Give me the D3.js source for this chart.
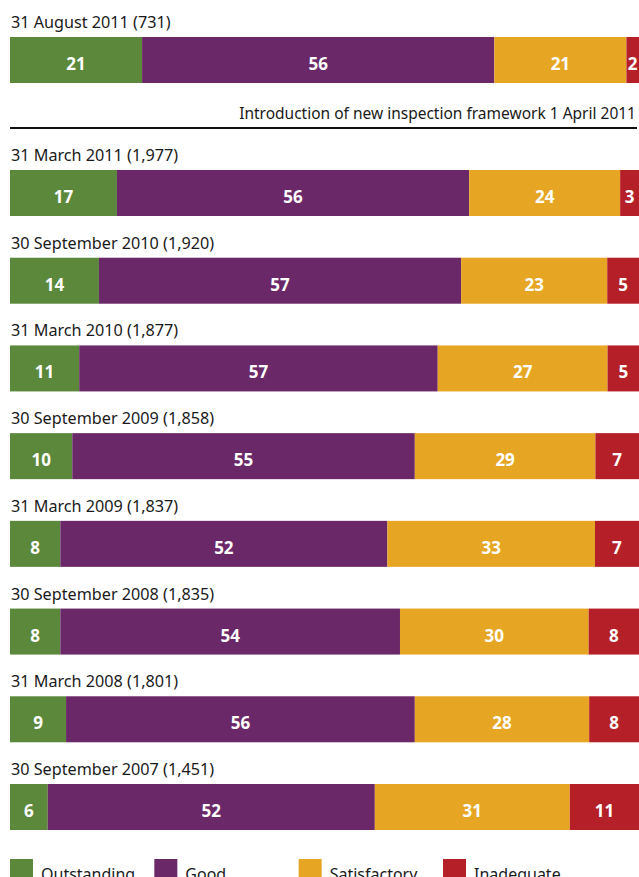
<!DOCTYPE html>
<html>
<head>
<meta charset="utf-8">
<script src="https://cdn.jsdelivr.net/npm/d3@7"></script>
<style>
  html, body { margin: 0; padding: 0; background: #fff; }
  svg { display: block; }
  text { font-family: "Noto Sans", "Open Sans", sans-serif; }
</style>
</head>
<body>
<svg id="chart" width="639" height="877"></svg>
<script>
// Inspection outcomes by date (percentages, rounded)
const dates = [
  "31 August 2011 (731)",
  "31 March 2011 (1,977)",
  "30 September 2010 (1,920)",
  "31 March 2010 (1,877)",
  "30 September 2009 (1,858)",
  "31 March 2009 (1,837)",
  "30 September 2008 (1,835)",
  "31 March 2008 (1,801)",
  "30 September 2007 (1,451)"
];
const outstanding  = [21, 17, 14, 11, 10, 8, 8, 9, 6];
const good         = [56, 56, 57, 57, 55, 52, 54, 56, 52];
const satisfactory = [21, 24, 23, 27, 29, 33, 30, 28, 31];
const inadequate   = [2, 3, 5, 5, 7, 7, 8, 8, 11];

const categories = ["Outstanding", "Good", "Satisfactory", "Inadequate"];
const colours = ["#5c883c", "#6b2868", "#e6a624", "#b52028"];
const dividerNote = "Introduction of new inspection framework 1 April 2011";

const series = [outstanding, good, satisfactory, inadequate];
const rows = dates.map((d, i) => ({
  label: d,
  values: series.map(s => s[i])
}));

const svg = d3.select("#chart");
const left = 10, right = 639, barH = 46;

// Row tops: the first row sits above the framework divider, the rest are evenly spaced
const yRest = d3.scaleLinear().domain([1, rows.length - 1]).range([170, 784]);
const rowTop = i => i === 0 ? 37 : yRest(i);

const colour = d3.scaleOrdinal().domain(categories).range(colours);

rows.forEach((row, i) => {
  const total = d3.sum(row.values);
  const x = d3.scaleLinear().domain([0, total]).range([left, right]);
  const top = rowTop(i);
  const g = svg.append("g");

  g.append("text")
    .attr("x", 11)
    .attr("y", top - 9)
    .attr("font-size", 16.2)
    .attr("fill", "#1a1a1a")
    .text(row.label);

  const cum = d3.cumsum(row.values);
  const segs = row.values.map((v, k) => ({
    cat: categories[k], v, x0: cum[k] - v, x1: cum[k]
  }));

  g.selectAll("rect").data(segs).join("rect")
    .attr("x", d => x(d.x0))
    .attr("y", top)
    .attr("width", d => x(d.x1) - x(d.x0))
    .attr("height", barH)
    .attr("fill", d => colour(d.cat));

  g.selectAll("text.val").data(segs).join("text")
    .attr("class", "val")
    .attr("x", d => (x(d.x0) + x(d.x1)) / 2)
    .attr("y", top + 33)
    .attr("text-anchor", "middle")
    .attr("font-size", 17)
    .attr("font-weight", "bold")
    .attr("fill", "#fff")
    .text(d => d.v);
});

// Framework divider
svg.append("text")
  .attr("x", 636)
  .attr("y", 119)
  .attr("text-anchor", "end")
  .attr("font-size", 15.5)
  .attr("fill", "#1a1a1a")
  .text(dividerNote);
svg.append("line")
  .attr("x1", 10).attr("x2", 637)
  .attr("y1", 128).attr("y2", 128)
  .attr("stroke", "#111")
  .attr("stroke-width", 2);

// Legend
const legendX = d3.scalePoint().domain(categories).range([10, 443]);
const lg = svg.append("g").selectAll("g").data(categories).join("g")
  .attr("transform", d => `translate(${legendX(d)},859)`);
lg.append("rect")
  .attr("width", 23).attr("height", 24)
  .attr("fill", d => colour(d));
lg.append("text")
  .attr("x", 31)
  .attr("y", 21)
  .attr("font-size", 16)
  .attr("fill", "#1a1a1a")
  .text(d => d);
</script>
</body>
</html>
